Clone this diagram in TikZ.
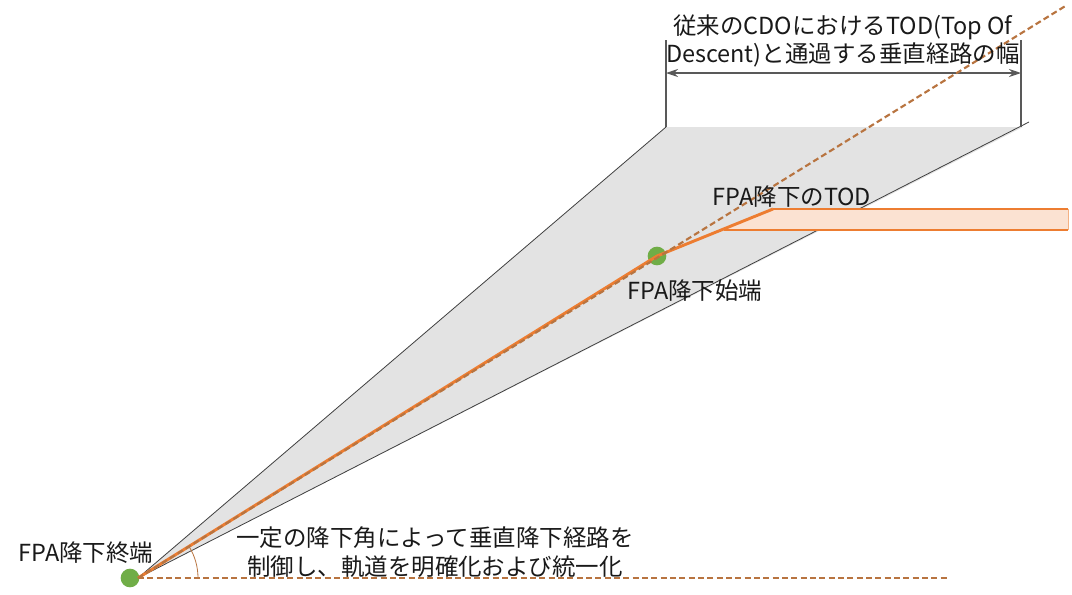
\documentclass[tikz,border=0pt]{standalone}
\usepackage{fontspec}
\setmainfont{Noto Sans CJK JP}
\usetikzlibrary{arrows.meta}
\definecolor{wedgefill}{HTML}{E3E3E3}
\definecolor{wedgeline}{HTML}{404040}
\definecolor{orangeline}{HTML}{ED7D31}
\definecolor{bandfill}{HTML}{FBE2D2}
\definecolor{dashcol}{HTML}{B87440}
\definecolor{dimcol}{HTML}{595959}
\definecolor{dotgreen}{HTML}{70AD47}
\begin{document}
\begin{tikzpicture}[x=0.75pt,y=-0.75pt,
  lbl/.style={font=\fontsize{17.6}{21.5}\selectfont, text=black!90, inner sep=0pt, align=center},
  dot/.style={circle, fill=dotgreen, draw=none, minimum size=14pt, inner sep=0pt},
  wedgeside/.style={draw=wedgeline, line width=0.6pt},
  dimline/.style={draw=dimcol, line width=0.8pt},
  dimarrow/.style={draw=dimcol, line width=0.8pt, {Stealth[length=9pt,width=6pt]}-{Stealth[length=9pt,width=6pt]}},
  pathline/.style={draw=orangeline, line width=2.2pt},
  bandline/.style={draw=orangeline, line width=1.2pt},
  dashline/.style={draw=dashcol, line width=1.6pt, dash pattern=on 4.5pt off 2.5pt},
  anglearc/.style={draw=dashcol, line width=0.6pt}
]
\useasboundingbox (0,0) rectangle (1072,594);
% key coordinates
\coordinate (apex) at (138,578);
\coordinate (wl) at (666,127);
\coordinate (wr) at (1023,127);
\coordinate (wrx) at (1029,122);
\coordinate (bandtl) at (773,209);
\coordinate (bandbl) at (724,230);
\coordinate (bandtr) at (1068,209);
\coordinate (bandbr) at (1068,230);
\coordinate (dashend) at (1067,5);
\coordinate (hend) at (950,578);
\coordinate (dimtl) at (666,40);
\coordinate (dimtr) at (1021,40);
\coordinate (dimbr) at (1021,127);
\coordinate (arl) at (666,73);
\coordinate (arr) at (1021,73);
% wedge
\fill[wedgefill] (apex) -- (wl) -- (wr) -- cycle;
\draw[wedgeside] (apex) -- (wl);
\draw[wedgeside] (apex) -- (wrx);
% dimension
\draw[dimline] (dimtl) -- (wl);
\draw[dimline] (dimtr) -- (dimbr);
\draw[dimarrow] (arl) -- (arr);
% band
\fill[bandfill] (bandbl) -- (bandtl) -- (bandtr) -- (bandbr) -- cycle;
\draw[bandline] (bandbl) -- (bandbr);
\draw[bandline] (bandtl) -- (bandtr);
\draw[draw=orangeline!60, line width=0.5pt] (bandtr) -- (bandbr);
% nodes
\node[dot] (start) at (657,256) {};
\node[dot] (end) at (130,578) {};
% orange path
\draw[pathline] (apex) -- (start.center) -- (bandtl);
% dashed lines
\draw[dashline] (apex) -- (dashend);
\draw[dashline] (apex) -- (hend);
% angle arc
\draw[anglearc] (198,578) arc[start angle=0, end angle=-31.5, radius=60];
% labels
\node[lbl] (toplbl) at (843,41) {従来のCDOにおけるTOD(Top Of\\Descent)と通過する垂直経路の幅};
\node[lbl] (todlbl) at (792,197) {FPA降下のTOD};
\node[lbl] (startlbl) at (695,291) {FPA降下始端};
\node[lbl] (endlbl) at (86,553) {FPA降下終端};
\node[lbl] (desc) at (435,552) {一定の降下角によって垂直降下経路を\\制御し、軌道を明確化および統一化};
\end{tikzpicture}
\end{document}
